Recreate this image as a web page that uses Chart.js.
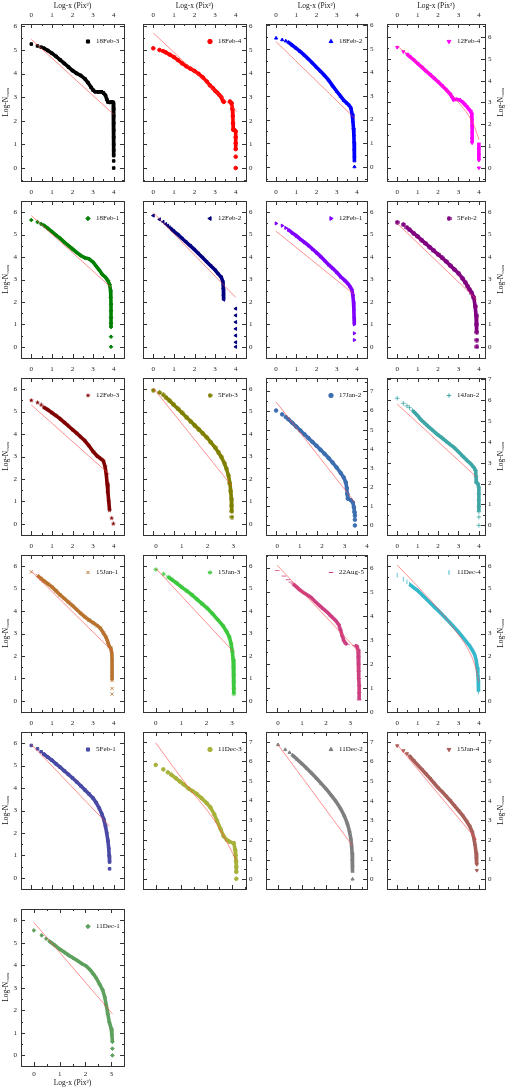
<!DOCTYPE html>
<html>
<head>
<meta charset="utf-8">
<script src="https://cdn.jsdelivr.net/npm/chart.js@4.4.0/dist/chart.umd.min.js"></script>
<style>
  body { margin: 0; background: #fff; }
  #fig { position: relative; width: 513px; height: 1090px; overflow: hidden; }
  #fig canvas { position: absolute; }
</style>
</head>
<body>
<div id="fig"></div>
<script>
// panel names, in reading order
var names = ["18Feb-3", "18Feb-4", "18Feb-2", "12Feb-4",
             "18Feb-1", "12Feb-2", "12Feb-1", "5Feb-2",
             "12Feb-3", "5Feb-3", "17Jan-2", "14Jan-2",
             "15Jan-1", "15Jan-3", "22Aug-5", "11Dec-4",
             "5Feb-1", "11Dec-3", "11Dec-2", "15Jan-4",
             "11Dec-1"];

// axis ranges (log-x and log-N_cum)
var xMax = [4.5, 4.5, 4.5, 4.3, 4.5, 4.5, 4.5, 4.3, 4.5, 4.5, 4.5, 4.3,
            4.5, 3.5, 4.0, 4.3, 4.5, 3.55, 3.7, 4.3, 3.5];
var yMin = [-0.55, -0.55, -0.6, -0.6, -0.5, -0.5, -0.5, -0.5, -0.5, -0.5, -0.5, -0.46,
            -0.5, -0.5, 0, -0.5, -0.5, -0.52, -0.5, -0.5, -0.47];
var yMax = [6.1, 6.1, 6.05, 6.6, 6.5, 6.5, 6.5, 6.5, 6.5, 6.5, 7.7, 7.05,
            6.5, 6.5, 6.55, 6.5, 6.5, 7.5, 7.5, 7.5, 6.5];

// data: dense run (band), lone points (dots), fitted line (fit)
var band1 = [[0.602,5.08],[0.8,4.98],[1.0,4.86],[1.2,4.73],[1.4,4.58],[1.6,4.43],[1.8,4.28],[2.0,4.13],[2.2,4.01],[2.4,3.92],[2.6,3.78],[2.75,3.62],[2.9,3.42],[3.0,3.3],[3.1,3.23],[3.25,3.22],[3.4,3.23],[3.5,3.18],[3.6,3.08],[3.66,2.92],[3.72,2.8],[3.8,2.78],[3.9,2.8],[3.98,2.78],[4.0,2.5],[4.0,2.2],[4.0,1.9],[4.0,1.6],[4.0,1.3],[4.0,1.0],[4.0,0.75],[4.0,0.52]];
var dots1 = [[0,5.25],[0.301,5.17],[0.477,5.12],[4.0,0.3],[4.0,0]];
var fit1 = [[0,5.45],[4.0,2.27]];

var band2 = [[0.602,4.9],[0.8,4.8],[1.0,4.7],[1.2,4.57],[1.4,4.43],[1.6,4.31],[1.8,4.21],[2.0,4.11],[2.2,3.99],[2.4,3.84],[2.6,3.66],[2.75,3.5],[2.9,3.38],[3.0,3.27],[3.1,3.2],[3.2,3.1],[3.3,3.0],[3.38,2.85],[3.42,2.8],[3.5,null],[3.72,2.82],[3.8,2.75],[3.84,2.5],[3.86,2.2],[3.87,1.9],[3.88,1.62],[3.95,1.6],[4.0,1.55],[4.0,1.3],[4.0,1.05],[4.0,0.8]];
var dots2 = [[0,5.07],[0.301,5.0],[0.477,4.95],[4.0,0.48],[4.0,0]];
var fit2 = [[0,5.72],[4.05,2.4]];

var band3 = [[0.602,5.28],[0.8,5.15],[1.0,5.02],[1.2,4.88],[1.4,4.73],[1.6,4.57],[1.8,4.4],[2.0,4.22],[2.2,4.05],[2.4,3.87],[2.6,3.67],[2.8,3.43],[3.0,3.2],[3.2,2.98],[3.35,2.82],[3.5,2.7],[3.6,2.62],[3.7,2.5],[3.76,2.25],[3.8,1.95],[3.83,1.65],[3.85,1.35],[3.86,1.05],[3.87,0.75],[3.88,0.45],[3.88,0.25]];
var dots3 = [[0,5.45],[0.301,5.38],[0.477,5.33],[3.88,0]];
var fit3 = [[0,5.3],[3.9,2.05]];

var band4 = [[0.477,5.22],[0.602,5.12],[0.8,4.96],[1.0,4.79],[1.2,4.62],[1.4,4.45],[1.6,4.29],[1.8,4.12],[2.0,3.95],[2.2,3.77],[2.4,3.58],[2.6,3.38],[2.7,3.23],[2.76,3.13],[2.9,3.15],[3.05,3.12],[3.2,3.02],[3.3,2.92],[3.4,2.82],[3.5,2.7],[3.6,2.6],[3.65,2.48],[3.66,2.2],[3.67,1.9],[3.67,1.6],[3.67,1.35],[3.67,1.15],[3.8,null],[4.0,1.1],[4.0,0.85],[4.0,0.6],[4.0,0.35]];
var dots4 = [[0,5.53],[0.301,5.33],[4.0,0]];
var fit4 = [[0,5.6],[1,4.8],[2,3.95],[3,3.0],[3.5,2.4],[3.8,1.85],[4.0,1.3]];

var band5 = [[0.602,5.42],[0.8,5.28],[1.0,5.13],[1.2,4.98],[1.4,4.83],[1.6,4.67],[1.8,4.51],[2.0,4.36],[2.2,4.21],[2.4,4.07],[2.6,3.97],[2.8,3.92],[3.0,3.77],[3.15,3.6],[3.3,3.42],[3.45,3.22],[3.6,3.1],[3.72,2.95],[3.8,2.78],[3.85,2.5],[3.86,2.2],[3.87,1.9],[3.87,1.6],[3.87,1.3],[3.87,1.05],[3.87,0.88]];
var dots5 = [[0,5.65],[0.301,5.56],[0.477,5.48],[3.87,0.45],[3.87,0]];
var fit5 = [[0,5.85],[3.87,2.65]];

var band6 = [[0.85,5.27],[1.0,5.15],[1.2,5.0],[1.4,4.83],[1.6,4.66],[1.8,4.5],[2.0,4.33],[2.2,4.15],[2.4,3.97],[2.6,3.78],[2.8,3.6],[3.0,3.42],[3.15,3.25],[3.3,3.1],[3.38,2.9],[3.4,2.6],[3.41,2.3],[3.42,2.1]];
var dots6 = [[0,5.85],[0.301,5.68],[0.477,5.57],[0.602,5.47],[0.699,5.4],[0.778,5.33],[4.0,1.7],[4.0,1.4],[4.0,1.1],[4.0,0.8],[4.0,0.5],[4.0,0.2],[4.0,0]];
var fit6 = [[0,5.98],[4.0,2.2]];

var band7 = [[0.602,5.22],[0.8,5.08],[1.0,4.95],[1.2,4.8],[1.4,4.66],[1.6,4.52],[1.8,4.36],[2.0,4.2],[2.2,4.03],[2.4,3.85],[2.6,3.66],[2.8,3.5],[3.0,3.32],[3.2,3.12],[3.4,2.96],[3.55,2.82],[3.65,2.7],[3.75,2.55],[3.8,2.3],[3.83,2.0],[3.85,1.65],[3.86,1.3],[3.87,1.0]];
var dots7 = [[0,5.5],[0.301,5.4],[0.477,5.3],[3.87,0.6],[3.87,0.3]];
var fit7 = [[0,5.15],[3.85,2.35]];

var band8 = [[0.602,5.22],[0.8,5.07],[1.0,4.92],[1.2,4.76],[1.4,4.6],[1.6,4.44],[1.8,4.28],[2.0,4.12],[2.2,3.96],[2.4,3.8],[2.6,3.62],[2.8,3.45],[3.0,3.28],[3.2,3.05],[3.35,2.85],[3.45,2.7],[3.55,2.55],[3.65,2.4],[3.75,2.2],[3.82,1.8],[3.86,1.4],[3.88,1.0],[3.9,0.65]];
var dots8 = [[0,5.55],[0.301,5.45],[0.477,5.32],[3.9,0.3],[3.9,0]];
var fit8 = [[0,5.5],[3.9,2.1]];

var band9 = [[0.602,5.2],[0.8,5.08],[1.0,4.95],[1.2,4.82],[1.4,4.68],[1.6,4.52],[1.8,4.36],[2.0,4.2],[2.2,4.04],[2.4,3.87],[2.6,3.7],[2.8,3.48],[3.0,3.22],[3.2,3.02],[3.35,2.92],[3.5,2.8],[3.58,2.55],[3.64,2.2],[3.68,1.8],[3.72,1.4],[3.76,1.0],[3.8,0.6]];
var dots9 = [[0,5.5],[0.301,5.4],[0.477,5.3],[3.9,0.25],[3.98,0]];
var fit9 = [[0,5.3],[3.8,2.2]];

var band10 = [[0.602,5.65],[0.8,5.48],[1.0,5.3],[1.2,5.12],[1.4,4.94],[1.6,4.76],[1.8,4.58],[2.0,4.4],[2.2,4.22],[2.4,4.04],[2.6,3.85],[2.8,3.63],[3.0,3.4],[3.15,3.2],[3.3,2.98],[3.45,2.7],[3.55,2.45],[3.65,2.15],[3.72,1.8],[3.76,1.45],[3.79,1.1],[3.8,0.8],[3.81,0.55]];
var dots10 = [[0,5.95],[0.301,5.85],[0.477,5.75],[3.82,0.3]];
var fit10 = [[0,6.05],[3.8,1.7]];

var band11 = [[0.602,5.55],[0.8,5.36],[1.0,5.16],[1.2,4.96],[1.4,4.76],[1.6,4.56],[1.8,4.36],[2.0,4.16],[2.2,3.95],[2.4,3.74],[2.6,3.52],[2.8,3.28],[3.0,3.02],[3.2,2.74],[3.35,2.5],[3.45,2.25],[3.5,1.95],[3.52,1.65],[3.55,1.4],[3.7,1.32],[3.8,1.2],[3.85,0.95],[3.88,0.7],[3.9,0.5]];
var dots11 = [[0,6.0],[0.301,5.8],[0.477,5.66],[3.9,0.3],[3.9,0]];
var fit11 = [[0,6.45],[3.9,1.2]];

var band12 = [[0.75,5.5],[0.9,5.35],[1.0,5.25],[1.14,5.08],[1.3,4.93],[1.5,4.75],[1.7,4.58],[1.96,4.36],[2.2,4.18],[2.4,4.02],[2.6,3.86],[2.78,3.73],[3.0,3.52],[3.2,3.32],[3.43,3.1],[3.6,2.95],[3.75,2.78],[3.84,2.62],[3.86,2.35],[3.87,2.06],[3.95,2.0],[4.0,1.8],[4.0,1.5],[4.0,1.2],[4.0,0.9],[4.0,0.65]];
var dots12 = [[0,6.08],[0.301,5.84],[0.477,5.72],[0.602,5.63],[4.0,0.4],[4.0,0]];
var fit12 = [[0,5.8],[3.9,2.3]];

var band13 = [[0.301,5.58],[0.477,5.45],[0.602,5.35],[0.8,5.22],[1.0,5.08],[1.2,4.9],[1.4,4.72],[1.6,4.56],[1.8,4.4],[2.0,4.24],[2.2,4.07],[2.4,3.9],[2.6,3.74],[2.8,3.6],[3.0,3.48],[3.2,3.35],[3.35,3.24],[3.5,3.02],[3.63,2.83],[3.72,2.6],[3.79,2.42],[3.86,2.35],[3.91,2.1],[3.92,1.8],[3.92,1.5],[3.92,1.2],[3.92,0.9]];
var dots13 = [[0,5.75],[3.92,0.55],[3.92,0.3]];
var fit13 = [[0,5.78],[3.95,2.2]];

var band14 = [[0.477,5.52],[0.602,5.42],[0.8,5.25],[1.0,5.07],[1.2,4.9],[1.4,4.72],[1.6,4.52],[1.8,4.32],[2.0,4.12],[2.2,3.88],[2.4,3.62],[2.6,3.35],[2.75,3.08],[2.85,2.85],[2.92,2.55],[2.97,2.2],[3.0,1.85],[3.02,1.5],[3.03,1.15],[3.03,0.85],[3.03,0.55],[3.03,0.3]];
var dots14 = [[0,5.85],[0.301,5.65]];
var fit14 = [[0,5.9],[3.0,2.2]];

var band15 = [[0.7,5.35],[0.85,5.23],[1.0,5.1],[1.2,4.96],[1.48,4.8],[1.7,4.6],[1.9,4.43],[2.05,4.3],[2.22,4.17],[2.4,4.0],[2.6,3.82],[2.74,3.65],[2.82,3.42],[2.9,3.17],[2.97,2.97],[3.05,2.86],[3.12,2.81],[3.3,null],[3.45,2.78],[3.55,2.75],[3.6,2.6],[3.62,2.3],[3.63,2.0],[3.64,1.7],[3.64,1.4],[3.65,1.1],[3.65,0.8],[3.65,0.5]];
var dots15 = [[0,5.9],[0.301,5.67],[0.477,5.52],[0.602,5.42]];
var fit15 = [[0,6.12],[3.6,2.55]];

var band16 = [[0.602,5.2],[0.8,5.05],[1.0,4.92],[1.2,4.74],[1.4,4.56],[1.6,4.38],[1.8,4.2],[2.0,4.03],[2.2,3.85],[2.4,3.66],[2.6,3.47],[2.8,3.27],[3.0,3.07],[3.2,2.85],[3.4,2.62],[3.55,2.45],[3.7,2.22],[3.8,2.05],[3.87,1.8],[3.92,1.5],[3.95,1.2],[3.97,0.9],[3.98,0.6],[3.98,0.4]];
var dots16 = [[0,5.6],[0.301,5.42],[0.477,5.3]];
var fit16 = [[0,6.05],[1,5.1],[2,4.1],[3,2.95],[3.5,2.25],[3.8,1.6],[4.0,0.85]];

var band17 = [[0.602,5.52],[0.8,5.38],[1.0,5.24],[1.2,5.08],[1.4,4.93],[1.6,4.77],[1.8,4.61],[2.0,4.45],[2.2,4.28],[2.4,4.1],[2.6,3.92],[2.8,3.74],[3.0,3.55],[3.15,3.35],[3.3,3.1],[3.42,2.85],[3.52,2.6],[3.6,2.3],[3.66,2.0],[3.72,1.65],[3.76,1.3],[3.78,1.0],[3.8,0.7]];
var dots17 = [[0,5.9],[0.301,5.75],[0.477,5.62],[3.8,0.4]];
var fit17 = [[0,5.95],[3.8,2.3]];

var band18 = [[0.602,5.33],[0.8,5.13],[0.95,4.97],[1.1,4.82],[1.3,4.6],[1.45,4.48],[1.61,4.34],[1.8,4.12],[2.0,3.87],[2.15,3.65],[2.3,3.3],[2.41,2.97],[2.55,2.55],[2.67,2.18],[2.8,1.98],[2.9,1.9],[3.07,1.82],[3.12,1.5],[3.14,1.2],[3.16,0.9],[3.17,0.6],[3.17,0.35]];
var dots18 = [[0,5.82],[0.301,5.59],[0.477,5.44],[3.17,0]];
var fit18 = [[0,6.95],[1.22,4.78],[2.4,2.8],[3.17,0.95]];

var band19 = [[0.602,6.32],[0.8,6.1],[1.0,5.88],[1.2,5.64],[1.4,5.4],[1.6,5.14],[1.8,4.87],[2.0,4.6],[2.2,4.3],[2.4,3.98],[2.6,3.6],[2.75,3.25],[2.88,2.85],[2.97,2.45],[3.03,2.05],[3.06,1.7],[3.08,1.35],[3.09,1.0],[3.1,0.7],[3.1,0.4]];
var dots19 = [[0,6.85],[0.301,6.6],[0.477,6.45],[3.1,0]];
var fit19 = [[0,6.85],[3.1,1.7]];

var band20 = [[0.602,6.28],[0.8,6.05],[1.0,5.82],[1.2,5.6],[1.4,5.37],[1.6,5.14],[1.8,4.9],[2.0,4.66],[2.2,4.45],[2.4,4.23],[2.6,4.0],[2.8,3.75],[3.0,3.5],[3.2,3.25],[3.4,2.95],[3.55,2.7],[3.68,2.4],[3.76,2.05],[3.82,1.7],[3.86,1.35],[3.88,1.05],[3.9,0.75]];
var dots20 = [[0,6.8],[0.301,6.55],[0.477,6.4],[3.9,0.45]];
var fit20 = [[0,6.85],[3.9,2.0]];

var band21 = [[0.602,5.07],[0.8,4.9],[1.0,4.72],[1.2,4.57],[1.35,4.45],[1.51,4.34],[1.7,4.2],[1.85,4.08],[2.03,3.97],[2.2,3.78],[2.32,3.6],[2.42,3.44],[2.55,3.17],[2.67,2.91],[2.75,2.6],[2.81,2.24],[2.87,1.85],[2.93,1.48],[3.0,1.2],[3.03,0.9],[3.05,0.6]];
var dots21 = [[0,5.55],[0.301,5.33],[0.477,5.18],[3.05,0.3],[3.05,0]];
var fit21 = [[0,5.9],[3.05,1.85]];

var bands = [band1, band2, band3, band4, band5, band6, band7, band8, band9, band10, band11,
             band12, band13, band14, band15, band16, band17, band18, band19, band20, band21];
var dots = [dots1, dots2, dots3, dots4, dots5, dots6, dots7, dots8, dots9, dots10, dots11,
            dots12, dots13, dots14, dots15, dots16, dots17, dots18, dots19, dots20, dots21];
var fits = [fit1, fit2, fit3, fit4, fit5, fit6, fit7, fit8, fit9, fit10, fit11,
            fit12, fit13, fit14, fit15, fit16, fit17, fit18, fit19, fit20, fit21];

// styles
var colors = ["#000000", "#ff0000", "#0000ff", "#ff00ff",
              "#008000", "#000080", "#8000ff", "#800080",
              "#800000", "#808000", "#3c6eb0", "#3fa6a6",
              "#b8732e", "#3cc83c", "#cc3f80", "#36b8cc",
              "#4a4aa6", "#a8b23a", "#7f7f7f", "#a8605a",
              "#5ea05e"];
var symbols = ["rect", "circle", "triangle", "triangle", "rectRot", "triangle", "triangle", "hex",
               "starF", "pent", "circle", "cross", "crossRot", "star", "line", "line",
               "rect", "circle", "triangle", "triangle", "rectRot"];
var symRot = [0, 0, 0, 180, 0, 270, 90, 0, 0, 0, 0, 0, 0, 0, 0, 90, 0, 0, 0, 180, 0];

var colLeft = [21, 143, 266, 387], colRight = [124, 246, 367, 485];
var rowTop = [24, 201, 378, 555, 732, 909], panelH = 157;
var padL = 21, padR = 28, padT = 24, padB = 24;
var FONT = "'Liberation Serif', 'DejaVu Serif', serif";

function polyMarker(kind, color) {
  var c = document.createElement("canvas");
  c.width = 5; c.height = 5;
  var g = c.getContext("2d");
  var n = kind === "hex" ? 6 : (kind === "pent" ? 5 : 10);
  g.fillStyle = color;
  g.beginPath();
  for (var k = 0; k < n; k++) {
    var ang = -Math.PI / 2 + k * 2 * Math.PI / n;
    var r = (kind === "starF" && k % 2) ? 1.1 : 2.5;
    g.lineTo(2.5 + r * Math.cos(ang), 2.5 + r * Math.sin(ang));
  }
  g.closePath();
  g.fill();
  return c;
}

function toXY(arr) {
  return arr.map(function (p) { return { x: p[0], y: p[1] }; });
}

function intLabel(v) {
  return Math.abs(v - Math.round(v)) < 1e-6 ? String(Math.round(v)) : "";
}

// whole-number ticks only
function intTicks(s) {
  var t = [];
  for (var v = Math.ceil(s.min - 1e-9); v <= Math.floor(s.max + 1e-9); v++) t.push({ value: v });
  s.ticks = t;
}

function fixH(h) { return function (s) { s.height = h; }; }
function fixW(w) { return function (s) { s.width = w; }; }

// inward ticks, legend and the y title
var deco = {
  id: "deco",
  afterDatasetsDraw: function (chart) {
    var o = chart.options.plugins.deco;
    var ctx = chart.ctx, a = chart.chartArea;
    var xs = chart.scales.x, ys = chart.scales.y;
    ctx.save();
    ctx.strokeStyle = "#333";
    ctx.lineWidth = 1;
    ctx.beginPath();
    var v, p, len;
    for (v = Math.ceil(xs.min * 2) / 2; v <= xs.max + 1e-9; v += 0.5) {
      p = Math.round(xs.getPixelForValue(v)) + 0.5;
      len = Math.abs(v - Math.round(v)) < 1e-6 ? 4 : 2;
      ctx.moveTo(p, a.bottom); ctx.lineTo(p, a.bottom - len);
      ctx.moveTo(p, a.top); ctx.lineTo(p, a.top + len);
    }
    for (v = Math.ceil(ys.min * 2) / 2; v <= ys.max + 1e-9; v += 0.5) {
      p = Math.round(ys.getPixelForValue(v)) + 0.5;
      len = Math.abs(v - Math.round(v)) < 1e-6 ? 4 : 2;
      ctx.moveTo(a.left, p); ctx.lineTo(a.left + len, p);
      ctx.moveTo(a.right, p); ctx.lineTo(a.right - len, p);
    }
    ctx.stroke();

    // legend entry
    var lx = a.right - 36, ly = a.top + 17.5;
    ctx.fillStyle = o.color;
    ctx.strokeStyle = o.color;
    Chart.helpers.drawPoint(ctx, { pointStyle: o.style, rotation: o.rot, radius: 2.2, borderWidth: 1 }, lx, ly);
    ctx.fillStyle = "#111";
    ctx.font = "7px " + FONT;
    ctx.textAlign = "left";
    ctx.textBaseline = "middle";
    ctx.fillText(o.name, a.right - 28, ly);

    // y title with subscript
    if (o.yTitle !== null) {
      var main = "Log-N", sub = "cum";
      ctx.font = "7.5px " + FONT;
      var w1 = ctx.measureText(main).width;
      ctx.font = "5px " + FONT;
      var w2 = ctx.measureText(sub).width;
      ctx.translate(o.yTitle, (a.top + a.bottom) / 2);
      ctx.rotate(-Math.PI / 2);
      ctx.textAlign = "left";
      ctx.textBaseline = "middle";
      ctx.font = "7.5px " + FONT;
      ctx.fillText(main, -(w1 + w2) / 2, 0);
      ctx.font = "5px " + FONT;
      ctx.fillText(sub, -(w1 + w2) / 2 + w1, 2);
    }
    ctx.restore();
  }
};

var fig = document.getElementById("fig");

names.forEach(function (name, i) {
  var col = i % 4, row = Math.floor(i / 4);
  var last = i === names.length - 1;
  var w = colRight[col] - colLeft[col];
  var bottomPad = last ? 30 : padB;
  var cv = document.createElement("canvas");
  cv.width = w + padL + padR;
  cv.height = panelH + padT + bottomPad;
  cv.style.left = (colLeft[col] - padL) + "px";
  cv.style.top = (rowTop[row] - padT) + "px";
  fig.appendChild(cv);

  var color = colors[i];
  var style = symbols[i];
  if (style === "hex" || style === "pent" || style === "starF") style = polyMarker(style, color);
  var openSym = ["cross", "crossRot", "star", "line"].indexOf(symbols[i]) >= 0;
  var rad = openSym ? 2.3 : 1.8;

  var tickFont = { family: FONT, size: 7 };
  var titleFont = { family: FONT, size: 7.5 };

  new Chart(cv, {
    type: "scatter",
    data: {
      datasets: [
        {
          data: toXY(fits[i]),
          showLine: true,
          borderColor: "rgba(255,70,70,0.75)",
          borderWidth: 0.8,
          pointRadius: 0,
          cubicInterpolationMode: "monotone",
          xAxisID: "x", yAxisID: "y"
        },
        {
          data: toXY(bands[i]),
          showLine: true,
          borderColor: color,
          borderWidth: 3.6,
          pointRadius: rad,
          pointStyle: style,
          rotation: symRot[i],
          pointBackgroundColor: color,
          pointBorderColor: color,
          pointBorderWidth: openSym ? 0.8 : 1,
          xAxisID: "x", yAxisID: "y"
        },
        {
          data: toXY(dots[i]),
          showLine: false,
          pointRadius: rad,
          pointStyle: style,
          rotation: symRot[i],
          pointBackgroundColor: color,
          pointBorderColor: color,
          pointBorderWidth: openSym ? 0.8 : 1,
          xAxisID: "x", yAxisID: "y"
        }
      ]
    },
    options: {
      responsive: false,
      devicePixelRatio: 1,
      animation: false,
      events: [],
      layout: { padding: 0 },
      scales: {
        x: {
          type: "linear", position: "bottom", min: -0.5, max: xMax[i],
          grid: { display: false, drawTicks: false },
          border: { color: "#333", width: 1 },
          ticks: { display: last, padding: 4, autoSkip: false, maxRotation: 0,
                   callback: intLabel, color: "#222", font: tickFont },
          afterBuildTicks: intTicks,
          title: { display: last, text: "Log-x (Pix²)", color: "#111", font: titleFont,
                   padding: { top: 0, bottom: 8 } },
          afterFit: fixH(bottomPad)
        },
        x2: {
          type: "linear", position: "top", min: -0.5, max: xMax[i],
          grid: { display: false, drawTicks: false },
          border: { color: "#333", width: 1 },
          ticks: { display: !last, padding: 5, autoSkip: false, maxRotation: 0,
                   callback: intLabel, color: "#222", font: tickFont },
          afterBuildTicks: intTicks,
          title: { display: row === 0, text: "Log-x (Pix²)", color: "#111", font: titleFont,
                   padding: { top: 1.5, bottom: 0 } },
          afterFit: fixH(padT)
        },
        y: {
          type: "linear", position: "left", min: yMin[i], max: yMax[i],
          grid: { display: false, drawTicks: false },
          border: { color: "#333", width: 1 },
          ticks: { display: col === 0, padding: 4, autoSkip: false,
                   callback: intLabel, color: "#222", font: tickFont },
          afterBuildTicks: intTicks,
          afterFit: fixW(padL)
        },
        y2: {
          type: "linear", position: "right", min: yMin[i], max: yMax[i],
          grid: { display: false, drawTicks: false },
          border: { color: "#333", width: 1 },
          ticks: { display: col > 0, padding: 3, autoSkip: false,
                   callback: intLabel, color: "#222", font: tickFont },
          afterBuildTicks: intTicks,
          afterFit: fixW(padR)
        }
      },
      plugins: {
        legend: { display: false },
        tooltip: { enabled: false },
        deco: {
          name: name, color: color, style: style, rot: symRot[i],
          yTitle: col === 0 ? 6 - (colLeft[col] - padL) : (col === 3 ? w + padL + 16 : null)
        }
      }
    },
    plugins: [deco]
  });
});
</script>
</body>
</html>
